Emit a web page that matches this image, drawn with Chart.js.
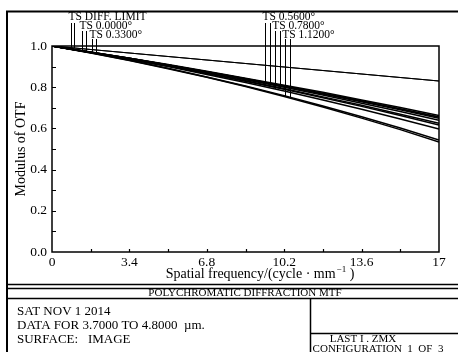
<!DOCTYPE html>
<html>
<head>
<meta charset="utf-8">
<script src="https://cdn.jsdelivr.net/npm/chart.js@4.4.1/dist/chart.umd.min.js"></script>
<style>
  html, body { margin: 0; padding: 0; background: #fff; }
  #wrap { width: 458px; height: 352px; }
</style>
</head>
<body>
<div id="wrap"><canvas id="mtf" width="458" height="352"></canvas></div>
<script>
// --- data ---
const freqs = [0, 1.7, 3.4, 5.1, 6.8, 8.5, 10.2, 11.9, 13.6, 15.3, 17];

const diffT = [1.0, 0.983, 0.966, 0.949, 0.932, 0.915, 0.898, 0.881, 0.864, 0.847, 0.830];
const diffS = [1.0, 0.983, 0.966, 0.949, 0.932, 0.915, 0.898, 0.881, 0.864, 0.847, 0.830];
const f000T = [1.0, 0.970, 0.940, 0.908, 0.875, 0.841, 0.806, 0.770, 0.733, 0.694, 0.655];
const f000S = [1.0, 0.970, 0.940, 0.908, 0.875, 0.841, 0.806, 0.770, 0.733, 0.694, 0.655];
const f033T = [1.0, 0.970, 0.938, 0.906, 0.872, 0.836, 0.800, 0.762, 0.722, 0.682, 0.640];
const f033S = [1.0, 0.971, 0.941, 0.910, 0.878, 0.844, 0.810, 0.775, 0.738, 0.701, 0.662];
const f056T = [1.0, 0.969, 0.937, 0.903, 0.868, 0.831, 0.793, 0.753, 0.712, 0.669, 0.625];
const f056S = [1.0, 0.970, 0.940, 0.908, 0.874, 0.840, 0.804, 0.767, 0.729, 0.690, 0.649];
const f078T = [1.0, 0.969, 0.935, 0.900, 0.862, 0.823, 0.782, 0.738, 0.693, 0.646, 0.597];
const f078S = [1.0, 0.969, 0.937, 0.903, 0.867, 0.829, 0.790, 0.749, 0.707, 0.663, 0.617];
const f112T = [1.0, 0.966, 0.930, 0.890, 0.848, 0.803, 0.755, 0.704, 0.650, 0.594, 0.534];
const f112S = [1.0, 0.967, 0.931, 0.892, 0.850, 0.806, 0.759, 0.709, 0.657, 0.602, 0.544];

const xTickVals = [0, 3.4, 6.8, 10.2, 13.6, 17];
const yTickVals = [0, 0.2, 0.4, 0.6, 0.8, 1.0];
const xMinorTicks = [1.7, 3.4, 5.1, 6.8, 8.5, 10.2, 11.9, 13.6, 15.3];
const yMinorTicks = [0.1, 0.2, 0.3, 0.4, 0.5, 0.6, 0.7, 0.8, 0.9];

// labels with leader lines (T, S)
const keyLabels = ['TS DIFF. LIMIT', 'TS 0.0000°', 'TS 0.3300°', 'TS 0.5600°', 'TS 0.7800°', 'TS 1.1200°'];
const keySeries = [[diffT, diffS], [f000T, f000S], [f033T, f033S], [f056T, f056S], [f078T, f078S], [f112T, f112S]];
const keyFreqT = [0.835, 1.318, 1.757, 9.357, 9.78, 10.22];
const keyFreqS = [0.966, 1.494, 1.933, 9.56, 10.03, 10.44];

const serif = "'Liberation Serif', 'Times New Roman', serif";

function pts(arr) {
    return freqs.map((f, i) => ({ x: f, y: arr[i] }));
}

// linear interpolation along a series
function valueAt(arr, f) {
    for (let i = 0; i < freqs.length - 1; i++) {
        if (f >= freqs[i] && f <= freqs[i + 1]) {
            const t = (f - freqs[i]) / (freqs[i + 1] - freqs[i]);
            return arr[i] + t * (arr[i + 1] - arr[i]);
        }
    }
    return arr[arr.length - 1];
}

const allSeries = [diffT, diffS, f000T, f000S, f033T, f033S, f056T, f056S, f078T, f078S, f112T, f112S];
const datasets = allSeries.map((s, i) => ({
    data: pts(s),
    borderColor: '#000',
    borderWidth: i < 2 ? 1.2 : 1.5,
    pointRadius: 0,
    tension: 0,
    fill: false
}));

const framePlugin = {
    id: 'frame',
    beforeDraw(chart) {
        const c = chart.ctx;
        c.save();
        c.fillStyle = '#fff';
        c.fillRect(0, 0, chart.width, chart.height);
        c.restore();
    },
    afterDraw(chart) {
        const c = chart.ctx;
        const a = chart.chartArea;
        const xs = chart.scales.x, ys = chart.scales.y;
        c.save();
        c.strokeStyle = '#000';

        // outer frame
        c.lineWidth = 2;
        c.beginPath();
        c.moveTo(7, 352); c.lineTo(7, 11.5); c.lineTo(458, 11.5);
        c.stroke();

        // plot box
        c.lineWidth = 1.5;
        c.strokeRect(a.left, a.top, a.right - a.left, a.bottom - a.top);

        // inward ticks
        c.lineWidth = 1.2;
        c.beginPath();
        yMinorTicks.forEach(v => {
            const y = Math.round(ys.getPixelForValue(v)) + 0.5;
            c.moveTo(a.left, y); c.lineTo(a.left + 4, y);
        });
        xMinorTicks.forEach(v => {
            const x = Math.round(xs.getPixelForValue(v)) + 0.5;
            c.moveTo(x, a.bottom); c.lineTo(x, a.bottom - 3);
        });
        c.stroke();

        // key labels + leader lines
        const rowTextY = [16.5, 26, 35];
        const rowLineTop = [23, 31, 39];
        c.fillStyle = '#000';
        c.font = '11.5px ' + serif;
        c.textBaseline = 'middle';
        c.textAlign = 'left';
        c.lineWidth = 1;
        keyLabels.forEach((lab, i) => {
            const row = i % 3;
            const xt = xs.getPixelForValue(keyFreqT[i]);
            const xsP = xs.getPixelForValue(keyFreqS[i]);
            c.fillText(lab, xt - 2.5, rowTextY[row]);
            c.beginPath();
            const yt = ys.getPixelForValue(valueAt(keySeries[i][0], keyFreqT[i]));
            const yss = ys.getPixelForValue(valueAt(keySeries[i][1], keyFreqS[i]));
            c.moveTo(Math.round(xt) + 0.5, rowLineTop[row]); c.lineTo(Math.round(xt) + 0.5, yt);
            c.moveTo(Math.round(xsP) + 0.5, rowLineTop[row]); c.lineTo(Math.round(xsP) + 0.5, yss);
            c.stroke();
        });

        // x axis title with superscript
        c.font = '14px ' + serif;
        c.textBaseline = 'alphabetic';
        const p1 = 'Spatial frequency/(cycle · mm';
        const p2 = '−1';
        const p3 = ' )';
        const w1 = c.measureText(p1).width;
        c.font = '9px ' + serif;
        const w2 = c.measureText(p2).width;
        c.font = '14px ' + serif;
        const w3 = c.measureText(p3).width;
        let tx = 260 - (w1 + w2 + w3 + 1) / 2;
        const ty = 278;
        c.fillText(p1, tx, ty);
        c.font = '9px ' + serif;
        c.fillText(p2, tx + w1 + 1, ty - 6);
        c.font = '14px ' + serif;
        c.fillText(p3, tx + w1 + w2 + 1, ty);

        // bottom block
        c.lineWidth = 1.5;
        c.beginPath();
        c.moveTo(7, 284.5); c.lineTo(458, 284.5);
        c.moveTo(7, 288.5); c.lineTo(458, 288.5);
        c.moveTo(7, 298.5); c.lineTo(458, 298.5);
        c.moveTo(310.5, 298.5); c.lineTo(310.5, 352);
        c.moveTo(310.5, 333.5); c.lineTo(458, 333.5);
        c.stroke();

        c.textBaseline = 'middle';
        c.textAlign = 'center';
        c.font = '11px ' + serif;
        c.fillText('POLYCHROMATIC DIFFRACTION MTF', 245, 293.5);

        c.textAlign = 'left';
        c.font = '13px ' + serif;
        c.fillText('SAT NOV 1 2014', 17, 312);
        c.fillText('DATA FOR 3.7000 TO 4.8000  µm.', 17, 326);
        c.fillText('SURFACE:   IMAGE', 17, 339.5);

        c.textAlign = 'center';
        c.font = '11px ' + serif;
        c.fillText('LAST I . ZMX', 363, 339);
        c.fillText('CONFIGURATION  1  OF  3', 378, 349);

        c.restore();
    }
};

new Chart(document.getElementById('mtf'), {
    type: 'line',
    data: { datasets: datasets },
    options: {
        responsive: false,
        animation: false,
        events: [],
        layout: { padding: { left: 9, top: 46, right: 19, bottom: 67 } },
        plugins: { legend: { display: false }, tooltip: { enabled: false } },
        scales: {
            x: {
                type: 'linear',
                min: 0, max: 17,
                afterFit: s => { s.height = 33; },
                afterBuildTicks: s => { s.ticks = xTickVals.map(v => ({ value: v })); },
                grid: { display: false, drawTicks: false },
                border: { display: false },
                ticks: {
                    autoSkip: false, maxRotation: 0, padding: 2, color: '#000',
                    font: { family: serif, size: 13.5 },
                    callback: v => (v === 0 || v === 17) ? String(v) : v.toFixed(1)
                }
            },
            y: {
                type: 'linear',
                min: 0, max: 1,
                afterFit: s => { s.width = 43; },
                afterBuildTicks: s => { s.ticks = yTickVals.map(v => ({ value: v })); },
                grid: { display: false, drawTicks: false },
                border: { display: false },
                ticks: {
                    padding: 5, color: '#000',
                    font: { family: serif, size: 13.5 },
                    callback: v => v.toFixed(1)
                },
                title: {
                    display: true, text: 'Modulus of OTF', color: '#000',
                    font: { family: serif, size: 14 },
                    padding: { top: 4, bottom: 0 }
                }
            }
        }
    },
    plugins: [framePlugin]
});
</script>
</body>
</html>
